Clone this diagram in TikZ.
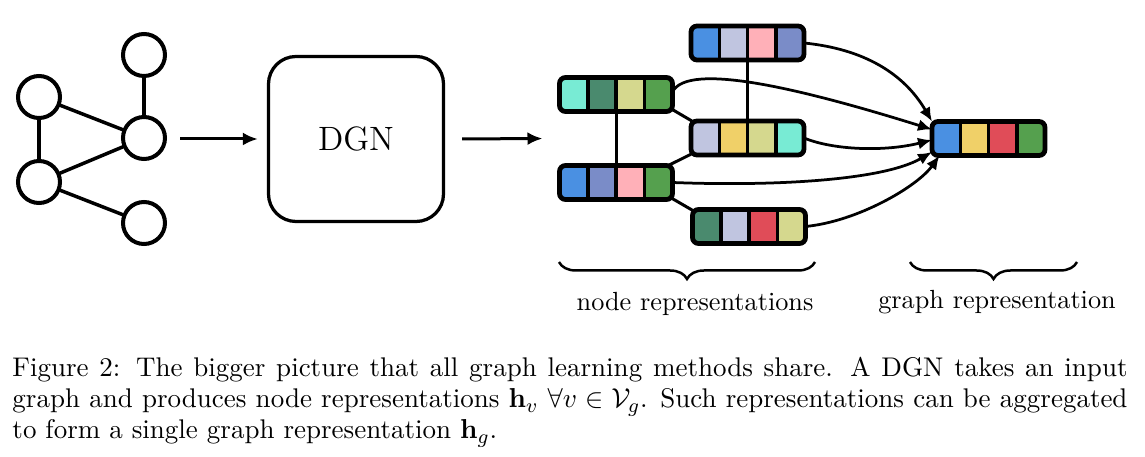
\documentclass[tikz,border=0pt]{standalone}
\usetikzlibrary{arrows.meta,decorations.pathreplacing,calc}
\definecolor{cblue}{HTML}{4A90E2}
\definecolor{clav}{HTML}{C0C5E0}
\definecolor{cpink}{HTML}{FFB0B8}
\definecolor{cperi}{HTML}{7A8CC8}
\definecolor{cmint}{HTML}{78EBD4}
\definecolor{cdgreen}{HTML}{4A8A6E}
\definecolor{ckhaki}{HTML}{D5D88E}
\definecolor{cgreen}{HTML}{55A04E}
\definecolor{cyellow}{HTML}{F0D068}
\definecolor{cred}{HTML}{E04C58}
\pgfdeclarelayer{bg}
\pgfsetlayers{bg,main}
\tikzset{
  gnode/.style={circle,draw,line width=1.6pt,minimum size=16.8pt,inner sep=0pt,outer sep=0pt},
  gedge/.style={line width=1.4pt},
  dgnbox/.style={draw,line width=1.3pt,rounded corners=11pt,minimum width=70pt,minimum height=66pt,inner sep=0pt,font=\fontsize{13.5}{16}\selectfont},
  bigarrow/.style={line width=1.2pt,-{Latex[length=6pt,width=5.2pt]}},
  vecnode/.style={minimum width=45.2pt,minimum height=13.6pt,inner sep=0pt,outer sep=0pt},
  vecborder/.style={line width=1.9pt,rounded corners=2.4pt},
  cellsep/.style={line width=1.4pt},
  veclink/.style={line width=1.2pt},
  aggarrow/.style={line width=1.1pt,-{Latex[length=5.6pt,width=4.8pt]}},
  bracedeco/.style={line width=1pt,decorate,decoration={brace,mirror,amplitude=6.8pt}},
  lbl/.style={font=\fontsize{10.5}{12}\selectfont,inner sep=0pt,anchor=base}
}
\newcommand\featvec[6]{%
  \node[vecnode] (#1) at (#2) {};
  \begin{scope}
    \clip[rounded corners=2.4pt] (#1.south west) rectangle (#1.north east);
    \fill[#3] (#1.south west) rectangle ($(#1.north west)!0.25!(#1.north east)$);
    \fill[#4] ($(#1.south west)!0.25!(#1.south east)$) rectangle ($(#1.north west)!0.5!(#1.north east)$);
    \fill[#5] ($(#1.south west)!0.5!(#1.south east)$) rectangle ($(#1.north west)!0.75!(#1.north east)$);
    \fill[#6] ($(#1.south west)!0.75!(#1.south east)$) rectangle (#1.north east);
  \end{scope}
  \foreach \f in {0.25,0.5,0.75}
    \draw[cellsep] ($(#1.south west)!\f!(#1.south east)$) -- ($(#1.north west)!\f!(#1.north east)$);
  \draw[vecborder] (#1.south west) rectangle (#1.north east);
}
\begin{document}
\begin{tikzpicture}[x=0.4pt,y=-0.4pt]
\useasboundingbox (0,0) rectangle (1145,457);
% input graph
\node[gnode] (g1) at (39,97) {};
\node[gnode] (g2) at (39,182) {};
\node[gnode] (g3) at (144,55) {};
\node[gnode] (g4) at (144,138) {};
\node[gnode] (g5) at (144,223) {};
\draw[gedge] (g1) -- (g2);
\draw[gedge] (g1) -- (g4);
\draw[gedge] (g2) -- (g4);
\draw[gedge] (g2) -- (g5);
\draw[gedge] (g3) -- (g4);
% DGN
\node[dgnbox] (dgn) at (356,139) {DGN};
\draw[bigarrow,shorten <=6pt,shorten >=3.6pt] (g4.east |- dgn.west) -- (dgn.west);
% node representations
\featvec{A}{747.5,43}{cblue}{clav}{cpink}{cperi}
\featvec{B}{616,94.5}{cmint}{cdgreen}{ckhaki}{cgreen}
\featvec{C}{747.5,138}{clav}{cyellow}{ckhaki}{cmint}
\featvec{D}{616,182.5}{cblue}{cperi}{cpink}{cgreen}
\featvec{E}{749,226.5}{cdgreen}{clav}{cred}{ckhaki}
\featvec{G}{988.5,138.5}{cblue}{cyellow}{cred}{cgreen}
\coordinate (vin) at ($(B.south west)!0.5!(D.north west)$);
\draw[bigarrow,shorten <=6.8pt,shorten >=6.8pt] (dgn.east) -- (vin);
\begin{pgfonlayer}{bg}
  \draw[veclink] (B.south) -- (D.north);
  \draw[veclink] (A.south) -- (C.north);
  \draw[veclink] (B.-15) -- (C.163);
  \draw[veclink] (D.18) -- (C.196);
  \draw[veclink] (D.-16) -- (E.164);
\end{pgfonlayer}
% aggregation arrows
\draw[aggarrow] (A.east) .. controls +(60,6) and +(-28,-48) .. (G.north west);
\draw[aggarrow] ([yshift=1pt]B.east) .. controls +(15,-31) and +(-128,-40) .. ([yshift=3.6pt]G.west);
\draw[aggarrow] (C.east) .. controls +(29,12) and +(-48,12) .. ([yshift=-0.6pt]G.west);
\draw[aggarrow] (D.east) .. controls +(105,4) and +(-48,28) .. ([yshift=-5.4pt]G.west);
\draw[aggarrow] (E.east) .. controls +(52,-5) and +(-22,31) .. ([xshift=3pt]G.south west);
% braces
\coordinate (nb1) at (559,262);
\coordinate (nb2) at (815,262);
\coordinate (gb1) at (910,262);
\coordinate (gb2) at (1077,262);
\draw[bracedeco] (nb1) -- (nb2);
\draw[bracedeco] (gb1) -- (gb2);
\node[lbl] (nlab) at (695,311) {node representations};
\node[lbl] (glab) at (997,309) {graph representation};
% caption
\node[anchor=base west,inner sep=0pt] (cap) at (12,377) {\parbox[t]{446pt}{\fontsize{10.8}{12.4}\selectfont
Figure 2: The bigger picture that all graph learning methods share. A DGN takes an input\linebreak
graph and produces node representations $\mathbf{h}_v\ \forall v \in \mathcal{V}_g$. Such representations can be aggregated\linebreak
to form a single graph representation $\mathbf{h}_g$.}};
\end{tikzpicture}
\end{document}
